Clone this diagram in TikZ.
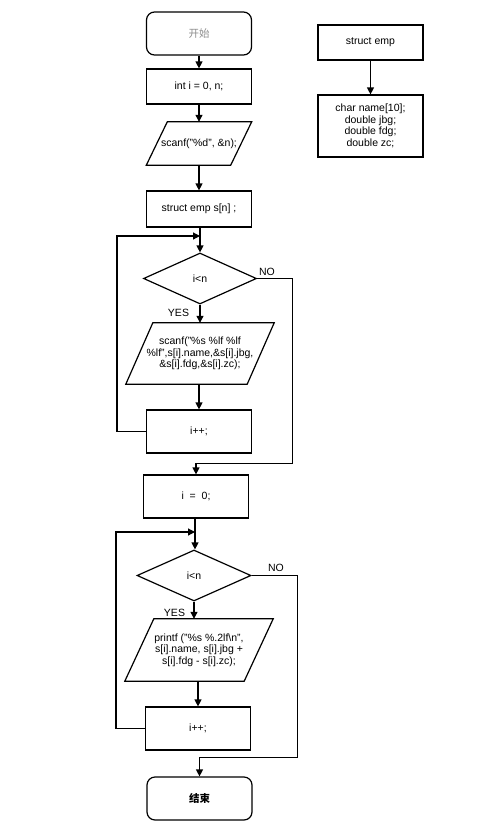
\documentclass[tikz,border=0pt]{standalone}
\usepackage{fontspec}
\setmainfont{Liberation Sans}
\newfontfamily\cjk{Noto Sans CJK SC}
\usetikzlibrary{arrows.meta,shapes.geometric}

% parallelogram outline round a plain node: name, slant
\newcommand\ioshape[2]{\draw[line] ([xshift=#2]#1.north west) -- (#1.north east) -- ([xshift=-#2]#1.south east) -- (#1.south west) -- cycle;}

\begin{document}
\begin{tikzpicture}[x=1pt,y=-1pt,
    font=\fontsize{10.5}{11.5}\selectfont,
    every node/.style={inner sep=0pt, align=center},
    arr/.style={-{Triangle[length=7pt,width=7pt]}, line width=1.2pt},
    line/.style={line width=1.2pt, line join=miter},
    terminal/.style={rectangle, rounded corners=8pt, draw, line width=1.2pt, minimum width=105pt, minimum height=43pt},
    process/.style={rectangle, draw, line width=1.2pt, minimum width=105pt, minimum height=#1},
    process/.default=43pt,
    io/.style={rectangle, minimum width=#1},
    decision/.style={diamond, draw, line width=1.2pt, aspect=2.2, minimum width=113pt, minimum height=51pt},
    tag/.style={font=\fontsize{10.5}{11.5}\selectfont}]
    \useasboundingbox (0,0) rectangle (499,836);

    % Start and input
    \node[terminal, text=black!45] (start) at (199,33.5) {\cjk 开始};
    \node[process=35pt] (vars) at (199,86.5) {int i = 0, n;};
    \node[io=105pt, minimum height=43pt] (readn) at (199,143.5) {scanf("\%d", \&n);};
    \ioshape{readn}{21pt}
    \node[process=36pt] (alloc) at (199,209) {struct emp s[n] ;};

    % First loop
    \coordinate (join1) at (200,236);
    \node[decision] (cond1) at (200,278.5) {i<n};
    \node[io=148pt, minimum height=61pt] (reademp) at (200,353.5) {scanf("\%s \%lf \%lf\\ \%lf",s[i].name,\&s[i].jbg,\\ \&s[i].fdg,\&s[i].zc);};
    \ioshape{reademp}{27pt}
    \node[process=43pt] (inc1) at (199,431.5) {i++;};

    % Reset
    \node[process=43pt] (reset) at (196,496.5) {i~~=~~0;};

    % Second loop
    \coordinate (join2) at (195,532);
    \node[decision, minimum width=114pt] (cond2) at (194,575.5) {i<n};
    \node[io=148pt, minimum height=62pt] (print) at (199,650) {printf ("\%s \%.2lf\textbackslash n",\\ s[i].name, s[i].jbg +\\ s[i].fdg - s[i].zc);};
    \ioshape{print}{29pt}
    \node[process=43pt] (inc2) at (198,728.5) {i++;};

    % End
    \node[terminal] (finish) at (199.5,798.5) {\cjk\bfseries 结束};

    % Struct definition
    \node[process=35pt] (sname) at (370.5,42.5) {struct emp};
    \node[process=62pt] (sfields) at (370.5,126) {char name[10];\\ double jbg;\\ double fdg;\\ double zc;};

    % Arrows
    \draw[arr] (start) -- (vars);
    \draw[arr] (vars) -- (readn);
    \draw[arr] (readn) -- (alloc);
    \draw[line] (alloc.south -| join1) -- (join1);
    \draw[arr] (join1) -- (cond1);
    \draw[arr] (cond1) -- (reademp);
    \draw[arr] (reademp.south -| inc1) -- (inc1);
    \draw[arr] (inc1.west) -- ++(-29,0) |- (join1);
    \draw[arr] (cond1.east) -- ++(35,0) |- ([yshift=11pt]reset.north) -- (reset.north);
    \draw[line] (reset.south -| join2) -- (join2);
    \draw[arr] (join2) -- (join2 |- cond2.north);
    \draw[arr] (cond2.south) -- (cond2.south |- print.north);
    \draw[arr] (print.south -| inc2) -- (inc2);
    \draw[arr] (inc2.west) -- ++(-29,0) |- (join2);
    \draw[arr] (cond2.east) -- ++(46,0) |- ([yshift=19pt]finish.north) -- (finish.north);
    \draw[arr] (sname) -- (sfields);

    % Labels
    \node[tag] (no1) at (267,272) {NO};
    \node[tag] (yes1) at (178.5,313) {YES};
    \node[tag] (no2) at (276,568) {NO};
    \node[tag] (yes2) at (174.5,613) {YES};
\end{tikzpicture}
\end{document}
